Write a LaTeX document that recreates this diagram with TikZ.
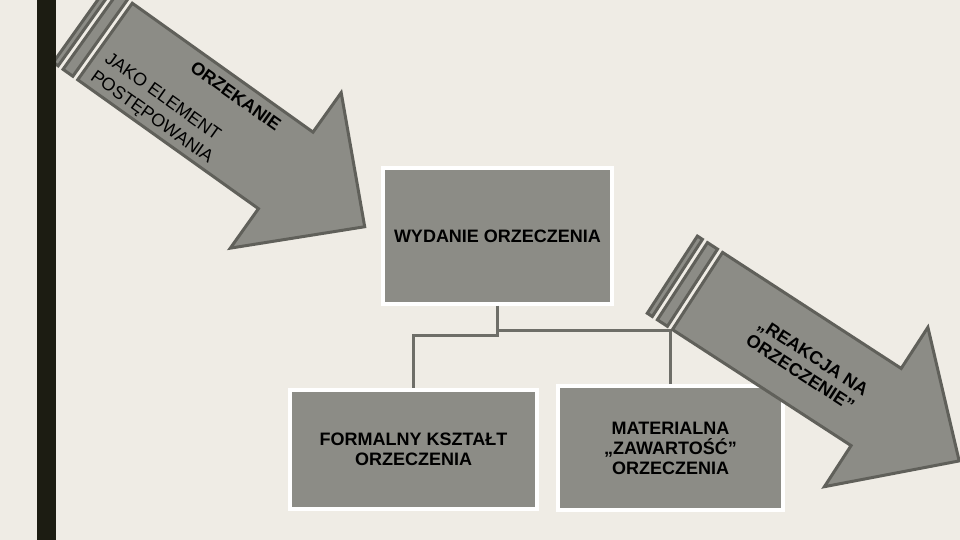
\documentclass[tikz,border=0pt]{standalone}
\usepackage{fontspec}
\setmainfont{Liberation Sans}
\definecolor{bg}{RGB}{239,236,229}
\definecolor{shapefill}{RGB}{140,140,134}
\definecolor{shapeline}{RGB}{96,96,90}
\definecolor{connline}{RGB}{110,110,104}
\definecolor{barcol}{RGB}{28,28,18}
\begin{document}
\begin{tikzpicture}[x=1pt,y=-1pt,
  box/.style={draw=white, line width=3.5pt, fill=shapefill, align=center, inner sep=0pt,
              font=\bfseries\fontsize{18}{20}\selectfont},
  conn/.style={draw=connline, line width=3pt},
  arrowbody/.style={fill=shapefill, draw=shapeline, line width=3pt},
  arrowtext/.style={font=\fontsize{18}{20}\selectfont, text height=12.9pt, text depth=0pt,
                    inner sep=0pt, transform shape},
  arrowbold/.style={arrowtext, font=\bfseries\fontsize{18}{20}\selectfont}
]
\useasboundingbox (0,0) rectangle (960,540);
\clip (0,0) rectangle (960,540);
\fill[bg] (0,0) rectangle (960,540);

% first arrow
\begin{scope}[shift={(105,41.5)}, rotate=-35.5]
  \draw[arrowbody] (-30,-47) rectangle (-24,47);
  \draw[arrowbody] (-18,-47) rectangle (-6,47);
  \draw[arrowbody] (0,-47) -- (222,-47) -- (222,-95.5) -- (319,0) -- (222,95.5) -- (222,47) -- (0,47) -- cycle;
  \node[arrowbold] (orz) at (138,-32) {ORZEKANIE};
  \node[arrowtext] (jako) at (79.3,10.4) {JAKO ELEMENT};
  \node[arrowtext] (post) at (82,33) {POSTĘPOWANIA};
\end{scope}

% boxes
\node[box, minimum width=229, minimum height=136] (wyd) at (497.5,236) {WYDANIE ORZECZENIA};
\node[box, minimum width=247, minimum height=119] (form) at (413.5,449.5) {FORMALNY KSZTAŁT\\ORZECZENIA};
\node[box, minimum width=225, minimum height=124] (mat) at (670.5,448) {MATERIALNA\\„ZAWARTOŚĆ”\\ORZECZENIA};

% connectors
\draw[conn] (wyd.south) -- ++(0,25) -| (mat.north);
\draw[conn] (wyd.south) -- ++(0,30) -| (form.north);

% second arrow
\begin{scope}[shift={(697.5,291)}, rotate=-33]
  \draw[arrowbody] (-30,-46) rectangle (-24,46);
  \draw[arrowbody] (-18,-46) rectangle (-6,46);
  \draw[arrowbody] (0,-46) -- (213,-46) -- (213,-95) -- (312,0) -- (213,95) -- (213,46) -- (0,46) -- cycle;
  \node[arrowbold] (reak) at (133,-8.3) {„REAKCJA NA};
  \node[arrowbold] (orzecz) at (130.8,12.3) {ORZECZENIE”};
\end{scope}

% dark bar
\fill[barcol] (37,0) rectangle (56,540);
\end{tikzpicture}
\end{document}
